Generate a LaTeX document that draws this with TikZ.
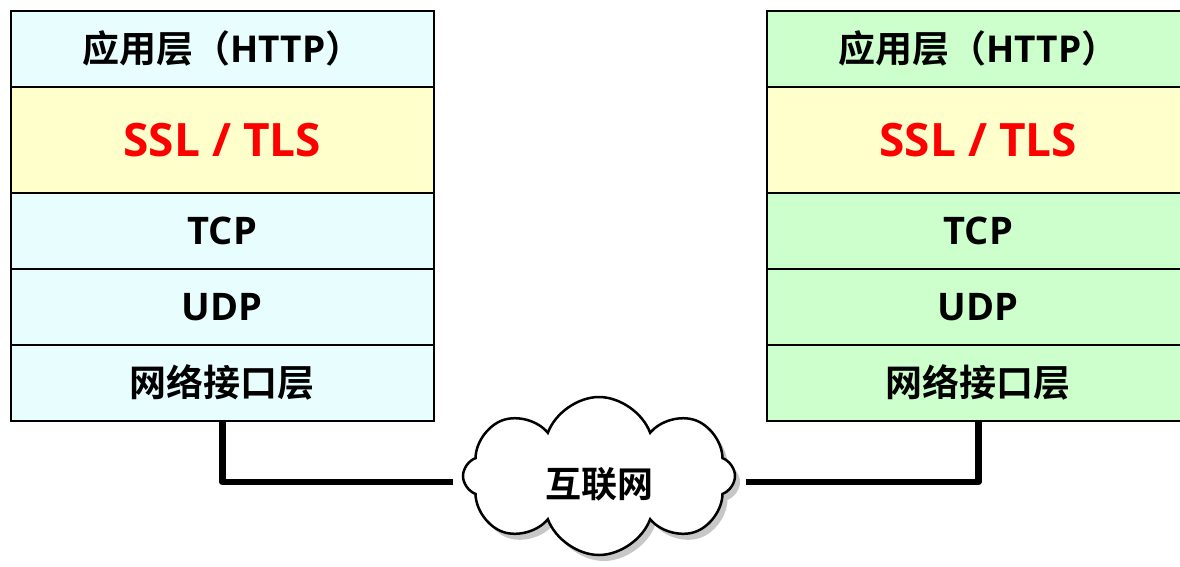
\documentclass[tikz,border=0pt]{standalone}
\usepackage{fontspec}
\newfontfamily\cjk{Noto Sans CJK SC Bold}
\newfontfamily\lat{Open Sans}[BoldFont={* Bold}]
\usetikzlibrary{shapes.symbols,shadows}
\definecolor{lfill}{HTML}{E8FEFE}
\definecolor{sslfill}{HTML}{FFFFCC}
\definecolor{rfill}{HTML}{CCFFCC}
\definecolor{sslred}{HTML}{FF0000}
\tikzset{
  lrow/.style={draw=black, line width=1.6pt, minimum width=423pt, inner sep=0pt, anchor=north west, fill=lfill},
  rrow/.style={lrow, fill=rfill},
  cn/.style={font=\cjk\fontsize{37}{42}\selectfont},
  ltxt/.style={font=\lat\bfseries\fontsize{38}{44}\selectfont},
  ssltxt/.style={font=\lat\bfseries\fontsize{46}{54}\selectfont, text=sslred},
  conn/.style={draw=black, line width=6.5pt, line join=round},
}
\newcommand{\apptext}{{\cjk 应用层（}{\lat\bfseries HTTP}{\cjk ）}}
\begin{document}
\begin{tikzpicture}[x=1pt,y=-1pt]
\useasboundingbox (0,0) rectangle (1180,566);
% left stack
\node[lrow, cn, minimum height=76pt] (la) at (10,10) {\apptext};
\node[lrow, ssltxt, fill=sslfill, minimum height=106pt] (ls) at (10,86) {SSL / TLS};
\node[lrow, ltxt, minimum height=76pt] (lt) at (10,192) {TCP};
\node[lrow, ltxt, minimum height=76pt] (lu) at (10,268) {UDP};
\node[lrow, cn, minimum height=76pt] (le) at (10,344) {网络接口层};
% right stack
\node[rrow, cn, minimum height=76pt] (ra) at (766,10) {\apptext};
\node[rrow, ssltxt, fill=sslfill, minimum height=106pt] (rs) at (766,86) {SSL / TLS};
\node[rrow, ltxt, minimum height=76pt] (rt) at (766,192) {TCP};
\node[rrow, ltxt, minimum height=76pt] (ru) at (766,268) {UDP};
\node[rrow, cn, minimum height=76pt] (re) at (766,344) {网络接口层};
% cloud
\node[cloud, cloud puffs=8, cloud puff arc=140, aspect=1.7, minimum width=272pt, minimum height=158pt,
      draw=black, line width=2.5pt, fill=white, inner sep=0pt,
      drop shadow={shadow xshift=5pt, shadow yshift=-6pt, fill=black!22, opacity=1},
      font=\cjk\fontsize{36}{40}\selectfont] (net) at (599,476) {\raisebox{-21pt}[0pt][0pt]{互联网}};
% connectors
\coordinate (lend) at (453,482);
\coordinate (rend) at (746,482);
\draw[conn] (le.south) |- (lend);
\draw[conn] (re.south) |- (rend);
\end{tikzpicture}
\end{document}
